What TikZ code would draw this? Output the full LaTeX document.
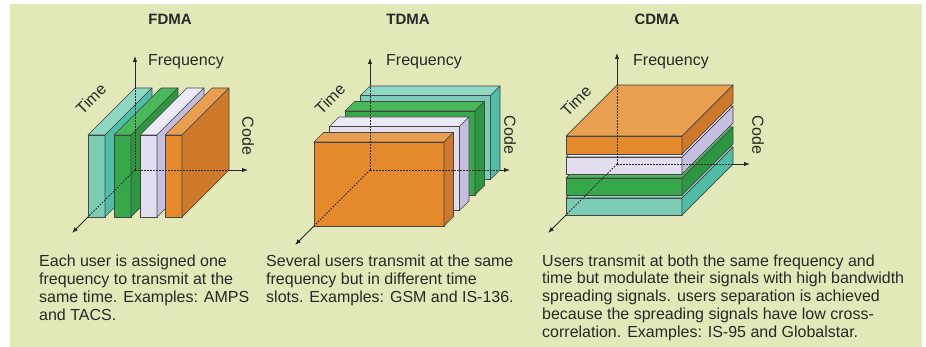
\documentclass[tikz,border=0pt]{standalone}
\usepackage{fontspec}
\setmainfont{Liberation Sans}
\usetikzlibrary{arrows.meta}
\definecolor{bg}{RGB}{226,232,184}
\definecolor{txt}{RGB}{40,40,40}
\definecolor{edge}{RGB}{70,70,70}
\definecolor{cTealF}{RGB}{122,205,180}
\definecolor{cTealT}{RGB}{142,216,196}
\definecolor{cTealS}{RGB}{80,190,166}
\definecolor{cGreenF}{RGB}{54,168,74}
\definecolor{cGreenT}{RGB}{72,184,90}
\definecolor{cGreenS}{RGB}{44,150,64}
\definecolor{cLavF}{RGB}{226,222,240}
\definecolor{cLavT}{RGB}{236,233,246}
\definecolor{cLavS}{RGB}{198,190,224}
\definecolor{cOraF}{RGB}{229,138,44}
\definecolor{cOraT}{RGB}{232,160,80}
\definecolor{cOraS}{RGB}{206,120,42}
\newcommand{\mabox}[9]{%
  \filldraw[boxedge, fill=#9F] ({#1+#3-#8},{#2-#5+#8}) rectangle ({#1+#4-#8},{#2-#6+#8});
  \filldraw[boxedge, fill=#9T] ({#1+#3-#8},{#2-#6+#8}) -- ({#1+#4-#8},{#2-#6+#8}) -- ({#1+#4-#7},{#2-#6+#7}) -- ({#1+#3-#7},{#2-#6+#7}) -- cycle;
  \filldraw[boxedge, fill=#9S] ({#1+#4-#8},{#2-#5+#8}) -- ({#1+#4-#8},{#2-#6+#8}) -- ({#1+#4-#7},{#2-#6+#7}) -- ({#1+#4-#7},{#2-#5+#7}) -- cycle;
}
\tikzset{
  boxedge/.style={draw=edge, line width=0.7pt, line join=round},
  axis/.style={draw=txt, line width=0.9pt, -{Latex[length=6pt,width=4.5pt]}},
  hidden/.style={draw=txt, line width=0.9pt, dash pattern=on 1.6pt off 1.4pt},
  title/.style={font=\fontsize{15}{17}\selectfont\bfseries, text=txt, anchor=base, inner sep=0pt},
  axlabel/.style={font=\fontsize{16}{18}\selectfont, text=txt, inner sep=0pt},
  caption/.style={font=\fontsize{16}{17.8}\selectfont, text=txt, anchor=base west, align=left, inner sep=0pt},
}
\begin{document}
\begin{tikzpicture}[x=1pt,y=-1pt]
\useasboundingbox (0,0) rectangle (926,347);
\fill[white] (0,0) rectangle (926,347);
\fill[bg] (10,4) rectangle (922,347);

% ---------- FDMA ----------
\node[title] (t1) at (170,25) {FDMA};
\coordinate (o1) at (135,170);
\coordinate (f1) at (135,56);
\coordinate (f1b) at (135,88);
\coordinate (c1) at (248,170);
\coordinate (c1b) at (229,170);
\coordinate (z1) at (72,233);
\coordinate (z1b) at (88,217);
\mabox{135}{170}{0}{17}{0}{82}{0}{47}{cTeal}
\mabox{135}{170}{26}{43}{0}{82}{0}{47}{cGreen}
\mabox{135}{170}{52}{69}{0}{82}{0}{47}{cLav}
\mabox{135}{170}{77}{94}{0}{82}{0}{47}{cOra}
\draw[hidden] (o1) -- (f1b);
\draw[hidden] (o1) -- (c1b);
\draw[hidden] (o1) -- (z1b);
\draw[axis] (f1b) -- (f1);
\draw[axis] (c1b) -- (c1);
\draw[axis] (z1b) -- (z1);
\node[axlabel, anchor=base west] (fl1) at (148,66) {Frequency};
\node[axlabel, rotate=45] (tl1) at (91,99) {Time};
\node[axlabel, rotate=-90] (cl1) at (248,136) {Code};

% ---------- TDMA ----------
\node[title] (t2) at (408,25) {TDMA};
\coordinate (o2) at (370,170);
\coordinate (f2) at (370,58);
\coordinate (f2b) at (370,86);
\coordinate (c2) at (510,170);
\coordinate (c2b) at (500,170);
\coordinate (z2) at (295,245);
\coordinate (z2b) at (314,226);
\mabox{370}{170}{0}{130}{0}{84}{0}{9.5}{cTeal}
\mabox{370}{170}{0}{130}{0}{84}{15.5}{25}{cGreen}
\mabox{370}{170}{0}{130}{0}{84}{31}{40.5}{cLav}
\mabox{370}{170}{0}{130}{0}{84}{46.5}{56}{cOra}
\draw[hidden] (o2) -- (f2b);
\draw[hidden] (o2) -- (c2b);
\draw[hidden] (o2) -- (z2b);
\draw[axis] (f2b) -- (f2);
\draw[axis] (c2b) -- (c2);
\draw[axis] (z2b) -- (z2);
\node[axlabel, anchor=base west] (fl2) at (386,66) {Frequency};
\node[axlabel, rotate=45] (tl2) at (330,99) {Time};
\node[axlabel, rotate=-90] (cl2) at (510,135) {Code};

% ---------- CDMA ----------
\node[title] (t3) at (657,25) {CDMA};
\coordinate (o3) at (617,164);
\coordinate (f3) at (617,53);
\coordinate (f3b) at (617,85);
\coordinate (c3) at (750,164);
\coordinate (c3b) at (733,164);
\coordinate (z3) at (548,233);
\coordinate (z3b) at (566,215);
\mabox{617}{164}{0}{116}{0}{17}{0}{51}{cTeal}
\mabox{617}{164}{0}{116}{20}{37}{0}{51}{cGreen}
\mabox{617}{164}{0}{116}{41}{58}{0}{51}{cLav}
\mabox{617}{164}{0}{116}{61}{79}{0}{51}{cOra}
\draw[hidden] (o3) -- (f3b);
\draw[hidden] (o3) -- (c3b);
\draw[hidden] (o3) -- (z3b);
\draw[axis] (f3b) -- (f3);
\draw[axis] (c3b) -- (c3);
\draw[axis] (z3b) -- (z3);
\node[axlabel, anchor=base west] (fl3) at (633,66) {Frequency};
\node[axlabel, rotate=45] (tl3) at (576,101) {Time};
\node[axlabel, rotate=-90] (cl3) at (758,135) {Code};

% ---------- captions (anchored at the last line's baseline) ----------
\node[caption] (d1) at (39,320.4) {Each user is assigned one\\frequency to transmit at the\\same time. Examples: AMPS\\and TACS.};
\node[caption] (d2) at (266,302.6) {Several users transmit at the same\\frequency but in different time\\slots. Examples: GSM and IS-136.};
\node[caption] (d3) at (542,337.2) {Users transmit at both the same frequency and\\time but modulate their signals with high bandwidth\\spreading signals. users separation is achieved\\because the spreading signals have low cross-\\correlation. Examples: IS-95 and Globalstar.};
\end{tikzpicture}
\end{document}
